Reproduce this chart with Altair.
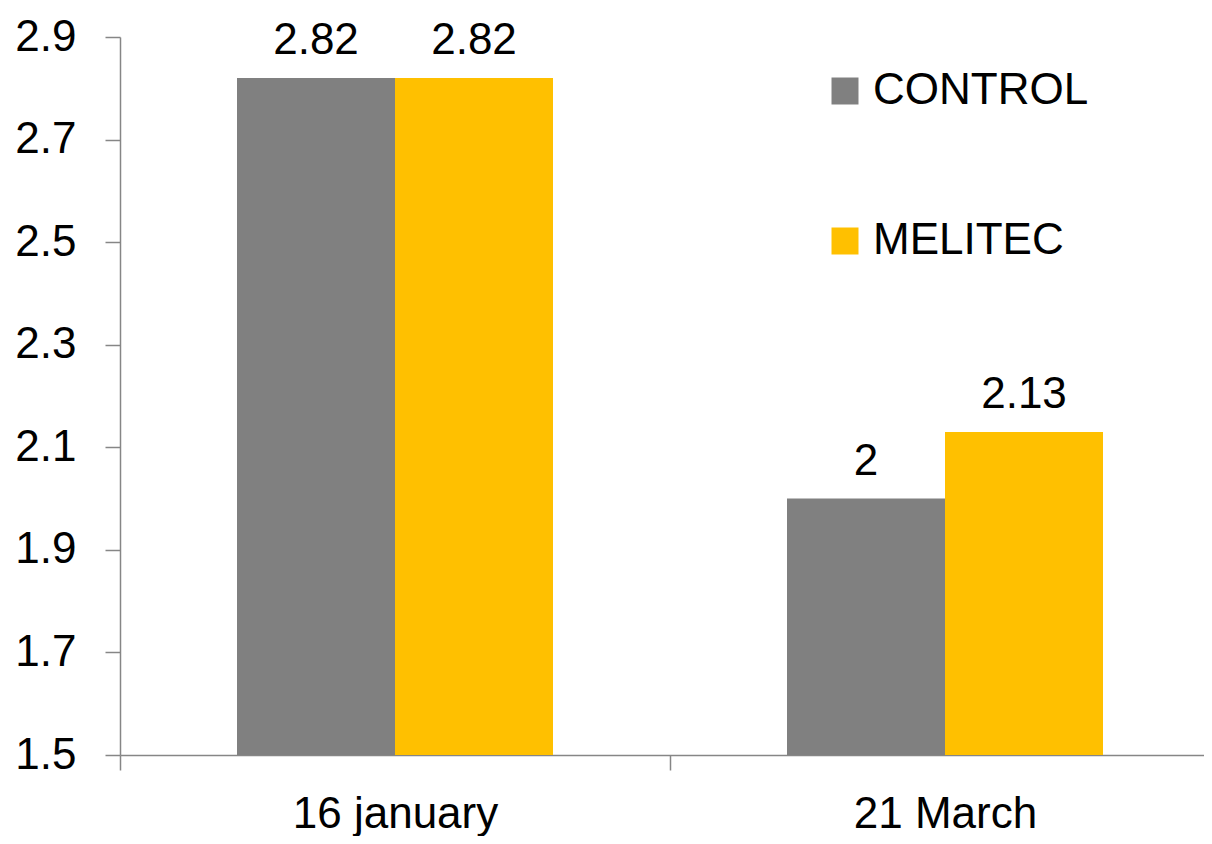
import altair as alt
import pandas as pd

dates = ["16 january", "16 january", "21 March", "21 March"]
series = ["CONTROL", "MELITEC", "CONTROL", "MELITEC"]
values = [2.82, 2.82, 2.0, 2.13]
labels = ["2.82", "2.82", "2", "2.13"]
y_ticks = [1.5, 1.7, 1.9, 2.1, 2.3, 2.5, 2.7, 2.9]

df = pd.DataFrame({"date": dates, "series": series, "value": values, "label": labels})

FONT = "Liberation Sans"
AXIS_COLOR = "#868686"

x_scale = alt.Scale(paddingInner=0, paddingOuter=0, range=[0, 1100])
x_enc = alt.X(
    "date:N",
    sort=["16 january", "21 March"],
    scale=x_scale,
    axis=alt.Axis(
        title=None, labelAngle=0, labelFontSize=44, labelFont=FONT, labelColor="black",
        domainColor=AXIS_COLOR, domainWidth=1.5, tickColor=AXIS_COLOR, tickWidth=1.5,
        tickSize=15, tickBand="extent", labelPadding=22, labelLimit=0,
    ),
)
xo_enc = alt.XOffset(
    "series:N", sort=["CONTROL", "MELITEC"],
    scale=alt.Scale(paddingInner=0, paddingOuter=0.7405),
)
color_enc = alt.Color(
    "series:N",
    sort=["CONTROL", "MELITEC"],
    scale=alt.Scale(domain=["CONTROL", "MELITEC"], range=["#808080", "#FFC000"]),
    legend=alt.Legend(
        title=None, orient="none", legendX=703, legendY=32,
        symbolType="square", symbolSize=729, symbolStrokeWidth=0, symbolOpacity=1,
        labelFontSize=44, labelFont=FONT, labelColor="black", labelOffset=6,
        labelLimit=0, rowPadding=106, padding=0,
    ),
)
y_scale = alt.Scale(domain=[1.5, 2.9], zero=False, nice=False)

bars = alt.Chart(df).mark_bar(opacity=1).encode(
    x=x_enc,
    xOffset=xo_enc,
    y=alt.Y(
        "value:Q", scale=y_scale,
        axis=alt.Axis(
            title=None, values=y_ticks, format=".1f", grid=False,
            labelFontSize=44, labelFont=FONT, labelColor="black",
            domainColor=AXIS_COLOR, domainWidth=1.5, tickColor=AXIS_COLOR, tickWidth=1.5,
            tickSize=15, labelPadding=29,
        ),
    ),
    y2=alt.datum(1.5),
    color=color_enc,
)

text = alt.Chart(df).mark_text(
    font=FONT, fontSize=44, color="black", baseline="alphabetic", dy=-24, align="center"
).encode(
    x=alt.X("date:N", sort=["16 january", "21 March"], scale=x_scale),
    xOffset=xo_enc,
    y=alt.Y("value:Q", scale=y_scale),
    text="label:N",
)

chart = (bars + text).properties(
    width=1084, height=718,
    autosize=alt.AutoSizeParams(type="none"),
    padding={"left": 112, "top": 29, "right": 0, "bottom": 81},
    background="white",
).configure_view(stroke=None)

chart.save("out.html", embed_options={"renderer": "svg", "actions": False})
